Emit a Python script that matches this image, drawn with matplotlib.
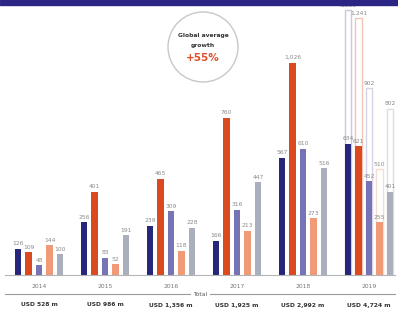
import matplotlib.pyplot as plt
from matplotlib.patches import Circle, Rectangle
import numpy as np

years = ['2014', '2015', '2016', '2017', '2018', '2019']
totals = ['USD 528 m', 'USD 986 m', 'USD 1,356 m', 'USD 1,925 m', 'USD 2,992 m', 'USD 4,724 m']

# five regions per year
series = [
    [126, 256, 239, 166, 567, 634],
    [109, 401, 465, 760, 1026, 621],
    [48, 83, 309, 316, 610, 452],
    [144, 52, 118, 213, 273, 255],
    [100, 191, 228, 447, 516, 401],
]
# 2019 outline bars
outline_2019 = [1280, 1241, 902, 510, 802]

colors = ['#26267a', '#db4a1e', '#7774b6', '#f19a78', '#a9afbc']
outline_colors = ['#c9c9de', '#f4c5b4', '#d6d5e8', '#f8dccf', '#dcdfe5']
label_color = '#8a8a8a'

W, H = 398, 311
fig = plt.figure(figsize=(W / 100, H / 100), dpi=100)

base_px = 275
ytop = 1328
ax = fig.add_axes([0, (H - base_px) / H, 1, base_px / H])
ax.set_xlim(-39 / 66, (W - 39) / 66)
ax.set_ylim(0, ytop)
ax.axis('off')

bw = 6.5 / 66
step = 10.5 / 66
x = np.arange(len(years))

for k, vals in enumerate(series):
    xs = x + (k - 2) * step
    ax.bar(xs, vals, width=bw, color=colors[k], zorder=3)
    for xi, v in zip(xs, vals):
        ax.text(xi, v + 12, f'{v:,}', ha='center', va='bottom', fontsize=4.3,
                color=label_color, zorder=4)
    # outline bar for 2019
    xo = x[-1] + (k - 2) * step
    ax.bar(xo, outline_2019[k], width=bw, facecolor='none',
           edgecolor=outline_colors[k], linewidth=1.0, zorder=2)
    ax.text(xo, outline_2019[k] + 12, f'{outline_2019[k]:,}', ha='center', va='bottom',
            fontsize=4.3, color=label_color, zorder=4)

# overlay in pixel coordinates for decorations
ov = fig.add_axes([0, 0, 1, 1], facecolor='none')
ov.set_xlim(0, W)
ov.set_ylim(H, 0)
ov.axis('off')

ov.add_patch(Rectangle((0, 0), W, 5, color='#2b2586', zorder=10))

ov.plot([5, 395], [base_px, base_px], color='#b5b5b5', lw=0.8)
for i, yr in enumerate(years):
    cx = 39 + 66 * i
    ov.text(cx, 286, yr, ha='center', va='center', fontsize=4.3, color='#777777')
    ov.text(cx, 305, totals[i], ha='center', va='center', fontsize=4.3,
            color='#333333', fontweight='bold')
ov.plot([5, 190], [294, 294], color='#9a9a9a', lw=0.8)
ov.plot([210, 395], [294, 294], color='#9a9a9a', lw=0.8)
ov.text(200, 294, 'Total', ha='center', va='center', fontsize=4.3, color='#555555')

ov.add_patch(Circle((203, 47), 35, facecolor='white', edgecolor='#c8c8c8', lw=1.0, zorder=5))
ov.text(203, 36, 'Global average', ha='center', va='center', fontsize=4.3,
        fontweight='bold', color='#333333', zorder=6)
ov.text(203, 45, 'growth', ha='center', va='center', fontsize=4.3,
        fontweight='bold', color='#333333', zorder=6)
ov.text(203, 58, '+55%', ha='center', va='center', fontsize=7.5,
        fontweight='bold', color='#e0502a', zorder=6)

fig.savefig('out.png', dpi=100)
